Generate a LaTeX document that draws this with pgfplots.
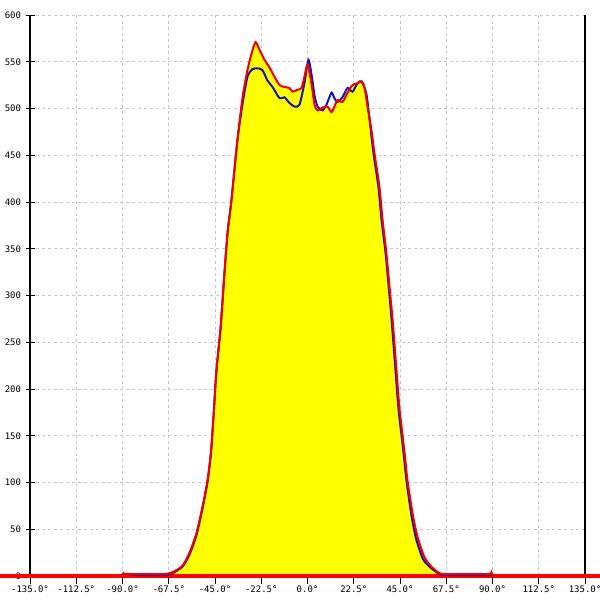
\documentclass[border=0pt]{standalone}
\usepackage{pgfplots}
\pgfplotsset{compat=1.18}
\usepackage{fontspec}
\setmonofont{DejaVu Sans Mono}
\definecolor{cblue}{RGB}{20,20,190}
\definecolor{cred}{RGB}{240,0,0}
\definecolor{cyel}{RGB}{255,255,0}
\definecolor{cgrid}{RGB}{200,200,200}
\begin{document}
\begin{tikzpicture}
\path[use as bounding box] (0,0) rectangle (600bp,600bp);
\begin{axis}[
  at={(30bp,24bp)}, anchor=south west,
  scale only axis, width=555bp, height=561bp,
  xmin=-135, xmax=135, ymin=0, ymax=600,
  clip=false,
  axis line style={draw=none},
  xtick={-135,-112.5,-90,-67.5,-45,-22.5,0,22.5,45,67.5,90,112.5,135},
  xticklabels={-135.0°,-112.5°,-90.0°,-67.5°,-45.0°,-22.5°,0.0°,22.5°,45.0°,67.5°,90.0°,112.5°,135.0°},
  ytick={0,50,100,150,200,250,300,350,400,450,500,550,600},
  yticklabels={0,50,100,150,200,250,300,350,400,450,500,550,600},
  grid=major,
  major grid style={cgrid, dash pattern=on 3bp off 3bp, line width=0.8bp},
  tick style={black, line width=1bp},
  xtick pos=bottom, ytick pos=left,
  tick align=center,
  major tick length=9bp,
  xtick style={yshift=-4bp},
  ticklabel style={font=\ttfamily\fontsize{9}{10}\selectfont, text=black},
  xticklabel style={anchor=north, yshift=-2bp},
  yticklabel style={anchor=east, xshift=-1bp},
]
\draw[black, line width=1.5bp] (axis cs:-135,0) -- (axis cs:-135,600);
\draw[black, line width=1.5bp] (axis cs:135,0) -- (axis cs:135,600);
\addplot[fill=cyel, draw=none, smooth, tension=0.4] coordinates {
(-90,0)(-89.5,3)(-88.5,2)(-80,2)(-72,2)(-69.6,2)(-65.7,4)(-60.8,11)(-57.4,25)(-54.0,46)(-51.1,74)(-48.6,103)(-46.9,135)(-45.6,175)(-44.3,220)(-42.3,265)(-40.4,324)(-38.9,367)(-37.0,402)(-34.1,466)(-31.6,512)(-29.2,541)(-27.2,559)(-25.3,571)(-23.4,563)(-20.9,552)(-18.5,544)(-16.1,534)(-13.6,525)(-11.2,523)(-8.8,522)(-7.3,518)(-4.9,520)(-2.9,522)(-1.5,534)(0,547)(1.9,527)(3.4,504)(4.9,498)(7.3,501)(9.7,502)(11.7,496)(13.1,502)(14.6,509)(17.0,507)(19.5,517)(21.9,525)(24.3,527)(26.3,529)(27.7,523)(29.2,502)(31.1,477)(32.6,452)(35.0,416)(36.5,381)(38.4,345)(39.9,309)(41.4,274)(43.3,220)(44.8,178)(47.2,132)(48.6,103)(51.1,67)(53.5,42)(56.9,20)(60.3,10)(64.2,3)(68.1,2)(80,2)(88.5,2)(89.5,4)(90,0)
} \closedcycle;
\addplot[red, line width=3bp] coordinates {(-152,0)(145,0)};
\addplot[cblue, line width=2bp, smooth, tension=0.4] coordinates {
(-90,0)(-89.5,2)(-80,1)(-69.6,1)(-65.7,3)(-60.8,10)(-57.4,23)(-54.0,44)(-51.1,72)(-48.6,101)(-46.9,133)(-45.6,175)(-44.3,220)(-42.3,265)(-40.4,324)(-38.9,367)(-37.0,402)(-34.1,466)(-31.6,505)(-29.2,534)(-26.8,542)(-24.3,543)(-21.9,541)(-19.5,530)(-17.0,523)(-13.6,511)(-11.2,512)(-8.8,506)(-6.3,502)(-3.9,504)(-1.5,527)(0.5,552)(2.4,530)(3.4,514)(4.9,502)(7.3,498)(9.2,504)(11.7,517)(13.1,511)(14.6,507)(17.0,512)(19.5,522)(21.9,518)(24.3,527)(26.3,529)(28.7,515)(30.6,480)(32.1,452)(34.5,416)(36.0,381)(38.0,345)(39.5,309)(40.9,274)(42.8,220)(44.3,178)(46.7,132)(48.1,103)(50.4,67)(52.8,40)(56.2,18)(59.8,9)(64.2,2)(68.1,1)(80,1)(89,1)(90,0)
};
\addplot[cred, line width=2bp, smooth, tension=0.4] coordinates {
(-90,0)(-89.5,3)(-88.5,2)(-80,2)(-72,2)(-69.6,2)(-65.7,4)(-60.8,11)(-57.4,25)(-54.0,46)(-51.1,74)(-48.6,103)(-46.9,135)(-45.6,175)(-44.3,220)(-42.3,265)(-40.4,324)(-38.9,367)(-37.0,402)(-34.1,466)(-31.6,512)(-29.2,541)(-27.2,559)(-25.3,571)(-23.4,563)(-20.9,552)(-18.5,544)(-16.1,534)(-13.6,525)(-11.2,523)(-8.8,522)(-7.3,518)(-4.9,520)(-2.9,522)(-1.5,534)(0,547)(1.9,527)(3.4,504)(4.9,498)(7.3,501)(9.7,502)(11.7,496)(13.1,502)(14.6,509)(17.0,507)(19.5,517)(21.9,525)(24.3,527)(26.3,529)(27.7,523)(29.2,502)(31.1,477)(32.6,452)(35.0,416)(36.5,381)(38.4,345)(39.9,309)(41.4,274)(43.3,220)(44.8,178)(47.2,132)(48.6,103)(51.1,67)(53.5,42)(56.9,20)(60.3,10)(64.2,3)(68.1,2)(80,2)(88.5,2)(89.5,4)(90,0)
};
\end{axis}
\end{tikzpicture}
\end{document}
